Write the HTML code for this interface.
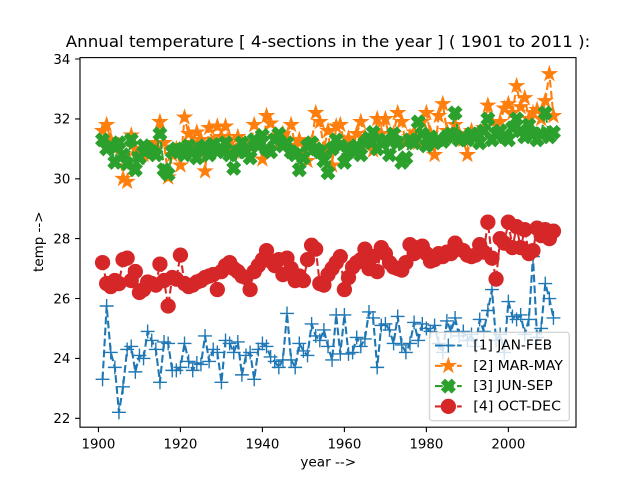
<!DOCTYPE html>
<html><head><meta charset="utf-8">
<style>
html,body{margin:0;padding:0;background:#fff;}
svg{display:block;font-family:"DejaVu Sans","Liberation Sans",sans-serif;}
</style></head>
<body>
<svg width="640" height="480" viewBox="0 0 640 480" xmlns="http://www.w3.org/2000/svg">
<rect width="640" height="480" fill="#fff"/>
<g id="plot"></g>
<g stroke="#000" stroke-width="1.11" fill="none">
<rect x="80" y="57.6" width="496" height="369.6"/>
<path d="M75.1 59H80M75.1 118.9H80M75.1 178.8H80M75.1 238.6H80M75.1 298.5H80M75.1 358.4H80M75.1 418.3H80"/>
<path d="M98.45 427.2V432.1M180.43 427.2V432.1M262.42 427.2V432.1M344.4 427.2V432.1M426.39 427.2V432.1M508.37 427.2V432.1"/>
</g>
<g font-size="13.33" fill="#000" text-anchor="end">
<text x="70.3" y="63.8" textLength="16.9" lengthAdjust="spacingAndGlyphs">34</text>
<text x="70.3" y="123.7" textLength="16.9" lengthAdjust="spacingAndGlyphs">32</text>
<text x="70.3" y="183.6" textLength="16.9" lengthAdjust="spacingAndGlyphs">30</text>
<text x="70.3" y="243.4" textLength="16.9" lengthAdjust="spacingAndGlyphs">28</text>
<text x="70.3" y="303.3" textLength="16.9" lengthAdjust="spacingAndGlyphs">26</text>
<text x="70.3" y="363.2" textLength="16.9" lengthAdjust="spacingAndGlyphs">24</text>
<text x="70.3" y="423.1" textLength="16.9" lengthAdjust="spacingAndGlyphs">22</text>
</g>
<g font-size="13.33" fill="#000" text-anchor="middle">
<text x="98.45" y="448.3" textLength="33.9" lengthAdjust="spacingAndGlyphs">1900</text>
<text x="180.43" y="448.3" textLength="33.9" lengthAdjust="spacingAndGlyphs">1920</text>
<text x="262.42" y="448.3" textLength="33.9" lengthAdjust="spacingAndGlyphs">1940</text>
<text x="344.4" y="448.3" textLength="33.9" lengthAdjust="spacingAndGlyphs">1960</text>
<text x="426.39" y="448.3" textLength="33.9" lengthAdjust="spacingAndGlyphs">1980</text>
<text x="508.37" y="448.3" textLength="33.9" lengthAdjust="spacingAndGlyphs">2000</text>
<text x="328.3" y="466.6" textLength="55.8" lengthAdjust="spacingAndGlyphs">year --&gt;</text>
<text x="0" y="0" transform="translate(43,241.7) rotate(-90)" textLength="60.5" lengthAdjust="spacingAndGlyphs">temp --&gt;</text>
</g>
<text x="328" y="47" font-size="16" text-anchor="middle" fill="#000" textLength="524.5" lengthAdjust="spacingAndGlyphs">Annual temperature [ 4-sections in the year ] ( 1901 to 2011 ):</text>
<g id="legend">
<rect x="429.5" y="332.3" width="139.8" height="88.4" rx="2.7" ry="2.7" fill="#fff" fill-opacity="0.8" stroke="#ccc" stroke-opacity="0.8" stroke-width="1.39"/>
<g id="lh"></g>
<g font-size="13.33" fill="#000">
<text x="473.3" y="349.6" textLength="78.8" lengthAdjust="spacingAndGlyphs">[1] JAN-FEB</text>
<text x="473.3" y="369.9" textLength="89.6" lengthAdjust="spacingAndGlyphs">[2] MAR-MAY</text>
<text x="473.3" y="390.2" textLength="79.4" lengthAdjust="spacingAndGlyphs">[3] JUN-SEP</text>
<text x="473.3" y="410.5" textLength="87.7" lengthAdjust="spacingAndGlyphs">[4] OCT-DEC</text>
</g>
</g>
</svg>
<script>
var blue=[23.3,25.75,24.2,23.7,22.2,23.05,24.3,24.4,23.55,24.1,
24.0,24.9,24.6,24.3,23.2,24.55,24.5,23.6,23.6,23.7,
24.5,23.9,23.6,23.85,23.8,24.75,23.9,24.3,24.2,23.2,
24.6,24.5,24.2,24.55,23.45,24.1,24.2,23.3,24.3,24.5,
24.4,24.05,23.9,23.7,23.95,25.5,23.95,23.7,24.5,24.25,
24.1,25.15,24.75,24.6,24.95,24.4,23.95,25.45,24.15,25.45,
24.15,24.2,24.7,24.4,24.65,25.55,25.35,23.7,25.1,25.15,
24.95,24.5,25.4,24.45,24.2,24.5,25.2,24.6,25.15,25.0,
24.9,25.1,24.5,24.2,25.25,24.9,25.35,24.75,24.9,24.6,
24.8,24.4,25.3,24.9,25.6,26.3,24.6,24.8,24.2,25.9,
25.4,25.3,25.45,24.8,25.3,27.4,24.7,25.0,26.5,26.0,25.35];
var red=[27.2,26.5,26.4,26.6,26.5,27.3,27.35,26.6,26.9,26.2,
26.3,26.55,26.5,26.45,27.15,26.6,25.75,26.7,26.65,27.45,
26.5,26.4,26.45,26.55,26.6,26.7,26.75,26.8,26.3,26.9,
27.1,27.2,27.0,26.9,26.75,26.7,26.3,26.9,27.1,27.3,
27.6,27.25,27.1,27.3,26.8,27.35,27.0,26.6,26.75,26.6,
27.3,27.78,27.65,26.5,26.45,26.8,27.0,27.2,27.4,26.3,
26.7,27.05,27.2,27.3,27.65,27.0,27.4,26.9,27.7,27.5,
27.2,27.05,27.0,26.95,27.2,27.8,27.5,27.7,27.75,27.5,
27.25,27.3,27.5,27.4,27.55,27.5,27.85,27.65,27.6,27.45,
27.4,27.45,27.8,27.55,28.55,27.35,26.65,28.0,27.85,28.55,
27.7,28.4,27.7,28.3,27.5,27.6,28.35,28.1,28.3,28.0,28.25];
var orange=[31.6,31.8,31.3,31.0,31.1,30.0,29.9,31.45,31.0,30.7,
30.8,31.0,30.9,31.2,31.9,31.2,30.05,30.8,31.0,30.45,
32.05,31.5,31.2,31.55,31.3,30.25,31.7,31.2,31.75,31.4,
31.75,31.3,30.9,31.4,31.2,30.9,31.1,31.8,31.3,30.65,
32.1,31.85,31.4,31.2,31.5,31.3,31.8,31.1,31.3,30.9,
30.6,31.2,32.2,31.9,31.0,31.6,30.45,31.75,31.8,31.2,
31.35,31.0,31.5,31.9,31.4,31.2,30.95,32.0,31.5,32.0,
31.3,31.5,32.2,31.9,31.2,31.4,31.55,31.2,31.9,32.2,
31.5,30.8,32.1,32.5,31.6,31.4,31.8,31.5,31.3,30.8,
31.6,31.4,31.5,31.7,32.45,31.9,31.6,31.9,32.35,32.5,
32.2,33.1,32.4,32.7,32.0,32.2,32.3,32.0,32.6,33.5,32.1];
var green=[31.3,31.0,31.1,30.55,31.2,30.8,30.5,31.3,30.3,30.7,
31.1,31.0,30.9,30.8,31.5,30.3,30.15,30.9,31.0,30.95,
30.8,31.1,30.9,30.7,31.0,31.1,30.8,31.15,30.9,31.0,
31.2,30.8,30.35,30.9,31.2,30.9,30.7,31.3,31.1,31.45,
31.0,30.9,31.3,31.5,31.1,31.2,30.9,30.8,30.3,30.7,
31.1,31.2,31.0,30.9,30.6,30.2,31.0,31.3,31.1,30.55,
30.9,31.0,31.1,30.8,31.2,31.35,31.55,31.0,31.2,31.3,
30.8,31.5,31.2,30.55,30.7,31.3,31.2,31.9,31.5,31.1,
31.4,31.2,31.3,31.25,31.4,31.5,32.2,31.3,31.4,31.3,
31.5,31.4,31.2,31.6,32.0,31.3,31.5,31.6,31.4,31.3,
31.7,32.0,31.6,31.4,31.8,31.5,31.3,31.5,32.2,31.4,31.55];
function X(i){return 98.45+(i+1)*4.0992;}
function Y(v){return 59+(34-v)*29.94;}
var S=13.89, R=S/2, EW=1.39;
function plus(x,y,c){return '<path d="M'+(x-R).toFixed(2)+' '+y.toFixed(2)+'H'+(x+R).toFixed(2)+'M'+x.toFixed(2)+' '+(y-R).toFixed(2)+'V'+(y+R).toFixed(2)+'" stroke="'+c+'" stroke-width="'+EW+'" fill="none"/>';}
function star(x,y,c){var p=[];for(var k=0;k<10;k++){var a=(-90+k*36)*Math.PI/180;var r=(k%2==0)?R:R*0.381966;p.push((x+r*Math.cos(a)).toFixed(2)+','+(y+r*Math.sin(a)).toFixed(2));}
return '<polygon points="'+p.join(' ')+'" fill="'+c+'" stroke="'+c+'" stroke-width="'+EW+'"/>';}
var xb=[[-1,-3],[1,-3],[1,-1],[3,-1],[3,1],[1,1],[1,3],[-1,3],[-1,1],[-3,1],[-3,-1],[-1,-1]];
function xf(x,y,c){var p=[];var s=S/6;for(var k=0;k<xb.length;k++){var a=xb[k][0]*s,b=xb[k][1]*s;var u=(a-b)/Math.SQRT2,v=(a+b)/Math.SQRT2;p.push((x+u).toFixed(2)+','+(y+v).toFixed(2));}
return '<polygon points="'+p.join(' ')+'" fill="'+c+'" stroke="'+c+'" stroke-width="'+EW+'" stroke-linejoin="miter"/>';}
function circ(x,y,c){return '<circle cx="'+x.toFixed(2)+'" cy="'+y.toFixed(2)+'" r="'+R.toFixed(2)+'" fill="'+c+'" stroke="'+c+'" stroke-width="'+EW+'"/>';}
function series(d,c,m){var pts=[];for(var i=0;i<d.length;i++)pts.push(X(i).toFixed(2)+','+Y(d[i]).toFixed(2));
var s='<polyline points="'+pts.join(' ')+'" fill="none" stroke="'+c+'" stroke-width="2.08" stroke-dasharray="7.7 3.33" stroke-linejoin="round"/>';
for(var i=0;i<d.length;i++)s+=m(X(i),Y(d[i]),c);return s;}
var h='';
h+=series(blue,'#1f77b4',plus);
h+=series(orange,'#ff7f0e',star);
h+=series(green,'#2ca02c',xf);
h+=series(red,'#d62728',circ);
document.getElementById('plot').innerHTML=h;
var L='';var rows=[345.5,365.8,386.1,406.4];var cs=['#1f77b4','#ff7f0e','#2ca02c','#d62728'];var ms=[plus,star,xf,circ];
for(var k=0;k<4;k++){L+='<path d="M435 '+rows[k]+'H461.7" stroke="'+cs[k]+'" stroke-width="2.08" stroke-dasharray="7.7 3.33" fill="none"/>';L+=ms[k](448.35,rows[k],cs[k]);}
document.getElementById('lh').innerHTML=L;
</script>
</body></html>
